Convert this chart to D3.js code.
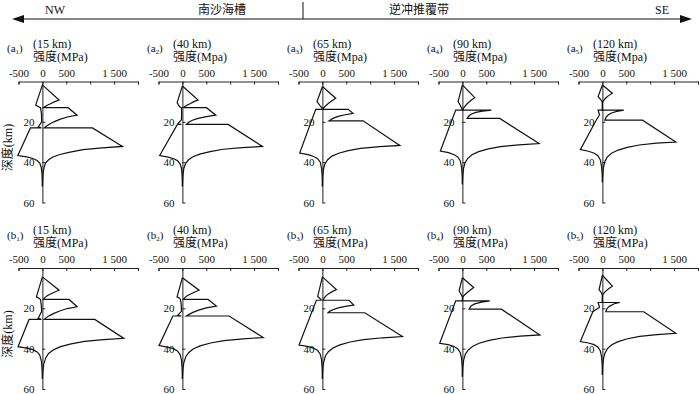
<!DOCTYPE html>
<html>
<head>
<meta charset="utf-8">
<script src="https://cdn.jsdelivr.net/npm/d3@7/dist/d3.min.js"></script>
<style>
  body { margin: 0; background: #fff; }
  svg text { font-family: "Liberation Serif", "Noto Sans CJK SC", serif; fill: #111; }
</style>
</head>
<body>
<div id="chart"></div>
<script>
// panel labels and axis ticks
var rowLetters = ["a", "b"];
var sections = ["15 km", "40 km", "65 km", "90 km", "120 km"];
var unitText = [["MPa", "Mpa", "Mpa", "Mpa", "Mpa"], ["MPa", "MPa", "MPa", "MPa", "MPa"]];
var strengthTicks = [-500, 0, 500, 1000, 1500, 2000];
var strengthTickText = ["-500", "0", "500", "", "1 500", ""];
var depthTicks = [20, 40, 60];

// strength envelopes, [strength MPa, depth km], compression side (right) and tension side (left)
var compA1 = [[0,1.7],[349,9.2],[260,10],[170,11],[100,11.8],[50,12.5],[20,13],[537,13],[726,16.7],[520,17.6],[363,18.8],[240,20],[154,21.1],[80,22.2],[40,23],[1047,23],[1675,32.2],[1250,32.9],[852,33.8],[580,35],[363,36.2],[220,37.4],[130,38.8],[70,40.3],[35,42.5],[12,46],[0,52]];
var tensA1 = [[0,1.7],[-140,11.7],[-70,12.6],[-40,13],[-20,16],[-15,20],[-90,22.6],[-20,23],[-250,23],[-515,36.7],[-330,37.4],[-200,38.2],[-110,39.2],[-55,40.5],[-25,42.5],[-8,46],[0,52]];
var compA2 = [[0,2.2],[328,9.2],[240,10],[160,11],[95,11.8],[45,12.5],[15,13],[503,13],[698,16.7],[500,17.4],[330,18.3],[210,19.2],[130,20.2],[84,21.3],[956,21.3],[1675,32.2],[1250,32.8],[852,33.6],[580,34.8],[363,36],[220,37.3],[130,38.8],[70,40.5],[30,43],[10,47],[0,52]];
var tensA2 = [[0,2.2],[-110,10.5],[-60,12.5],[-20,13],[-15,16],[-20,19],[-100,21.1],[-20,21.3],[-105,21.3],[-475,36.7],[-300,37.5],[-180,38.3],[-100,39.3],[-50,40.8],[-20,43],[-6,47],[0,52]];
var compA3 = [[0,2.5],[279,8.3],[200,9.5],[130,10.8],[70,12],[30,13],[10,13.8],[537,13.8],[642,15.8],[480,16.5],[330,17.3],[220,18.3],[140,19.5],[851,19.5],[1620,31.7],[1200,32.3],[800,33.2],[540,34.3],[340,35.6],[200,37],[110,38.8],[55,40.8],[22,43.5],[8,47],[0,52]];
var tensA3 = [[0,2.5],[-112,10],[-50,12],[-5,13.3],[-5,13.8],[-140,13.8],[-475,35.5],[-300,36.3],[-180,37.2],[-100,38.3],[-45,40],[-18,43],[-5,47],[0,52]];
var compA4 = [[0,1.7],[258,8],[180,9.3],[110,10.8],[55,12.2],[20,13.3],[5,14.2],[607,14.2],[420,14.7],[280,15.3],[180,16.2],[130,17.2],[100,18.3],[782,18.3],[1605,30.8],[1180,31.4],[800,32.3],[540,33.4],[340,34.8],[200,36.3],[110,38.2],[55,40.3],[22,43.3],[8,47],[0,51]];
var tensA4 = [[0,1.7],[-90,10],[-40,12],[-5,13.8],[-5,14.2],[-140,14.2],[-461,34.5],[-290,35.3],[-170,36.3],[-95,37.5],[-45,39.3],[-18,42.5],[-5,46.5],[0,51]];
var compA5 = [[0,1.7],[209,5.8],[130,7],[70,8.2],[25,9.5],[0,10.3],[0,14.2],[447,14.2],[300,14.8],[190,15.6],[120,16.6],[75,17.8],[50,19.2],[838,19.2],[1536,30],[1130,30.6],[770,31.5],[520,32.7],[330,34],[190,35.6],[100,37.5],[50,39.8],[20,43],[6,47],[0,50]];
var tensA5 = [[0,1.7],[-90,7.5],[-40,8.8],[0,10.3],[0,14.2],[-90,14.2],[-60,16.5],[-130,19.2],[-461,33.8],[-290,34.6],[-170,35.6],[-95,36.8],[-45,38.8],[-18,42],[-5,46],[0,50]];
var compB1 = [[0,4.4],[349,11],[260,11.9],[170,12.9],[100,13.8],[50,14.7],[20,15.6],[558,15.6],[726,19.2],[520,20.1],[363,21.3],[240,22.5],[150,23.6],[80,24.6],[40,25.5],[1096,25.5],[1703,34.9],[1280,35.5],[880,36.4],[600,37.6],[380,39],[230,40.6],[130,42.4],[70,44.5],[30,47.5],[10,51],[0,55]];
var tensB1 = [[0,4.4],[-126,14.3],[-70,15],[-40,15.6],[-25,18],[-15,21.5],[-90,25],[-20,25.5],[-279,25.5],[-510,39],[-320,39.7],[-200,40.5],[-110,41.6],[-55,43.2],[-22,46],[-7,50],[0,55]];
var compB2 = [[0,4.8],[349,11],[260,11.9],[170,12.9],[100,13.8],[50,14.7],[20,15.6],[537,15.6],[712,18.9],[500,19.8],[340,20.9],[220,22],[140,23],[84,23.8],[977,23.8],[1689,34.5],[1270,35.1],[870,36],[590,37.2],[370,38.6],[225,40.2],[130,42],[70,44],[30,47],[10,50.5],[0,55]];
var tensB2 = [[0,4.8],[-112,14.3],[-60,15],[-40,15.6],[-25,18],[-20,21.5],[-100,23.5],[-20,23.8],[-200,23.8],[-489,38.5],[-310,39.2],[-190,40],[-105,41.1],[-50,42.8],[-20,45.5],[-6,50],[0,55]];
var compB3 = [[0,4.4],[293,10.7],[215,11.6],[140,12.7],[80,13.7],[40,14.8],[15,16],[558,16],[656,18.4],[480,19],[330,19.8],[220,20.7],[150,21.5],[119,22.2],[886,22.2],[1675,34],[1260,34.6],[860,35.5],[580,36.7],[365,38.1],[220,39.7],[125,41.5],[65,43.5],[28,46.5],[9,50],[0,55]];
var tensB3 = [[0,4.4],[-98,14.1],[-55,15],[-25,15.7],[-25,16],[-126,16],[-489,38.2],[-310,38.9],[-190,39.7],[-105,40.8],[-50,42.5],[-20,45.2],[-6,49.5],[0,55]];
var compB4 = [[0,4.8],[237,9.7],[160,11],[95,12.3],[45,13.4],[10,14.3],[0,16.3],[572,16.3],[400,16.9],[258,17.8],[180,18.8],[140,20.4],[816,20.4],[1620,33.2],[1210,33.8],[830,34.7],[560,35.9],[350,37.3],[210,38.9],[120,40.7],[62,42.7],[26,45.7],[8,49.5],[0,54]];
var tensB4 = [[0,4.8],[-70,11.3],[-35,12.8],[0,14.3],[0,16.3],[-140,16.3],[-475,37.3],[-300,38],[-185,38.8],[-100,40],[-48,41.8],[-19,44.5],[-5,49],[0,54]];
var compB5 = [[0,3.6],[209,9],[130,10.3],[65,11.6],[20,12.8],[0,13.4],[0,17.1],[363,17.1],[250,17.7],[154,18.9],[100,20],[70,21.7],[865,21.7],[1536,32.4],[1140,33],[780,33.9],[525,35.1],[330,36.5],[195,38.1],[105,40],[52,42.2],[20,45.3],[6,49],[0,53]];
var tensB5 = [[0,3.6],[-70,10.7],[-30,12],[0,13.4],[0,17.1],[-90,17.1],[-60,19.5],[-200,21.7],[-461,36.5],[-290,37.2],[-175,38],[-95,39.2],[-45,41],[-18,44],[-5,48],[0,53]];

var compression = [[compA1, compA2, compA3, compA4, compA5], [compB1, compB2, compB3, compB4, compB5]];
var tension = [[tensA1, tensA2, tensA3, tensA4, tensA5], [tensB1, tensB2, tensB3, tensB4, tensB5]];

var width = 700, height = 394;
var svg = d3.select("#chart").append("svg")
    .attr("width", width)
    .attr("height", height);

// header: profile direction arrow
var header = svg.append("g");
header.append("line")
    .attr("x1", 20).attr("x2", 684).attr("y1", 19).attr("y2", 19)
    .attr("stroke", "#111").attr("stroke-width", 1);
header.append("path").attr("d", "M12,19 L24,15 L24,23 Z").attr("fill", "#111");
header.append("path").attr("d", "M692,19 L680,15 L680,23 Z").attr("fill", "#111");
header.append("line")
    .attr("x1", 303).attr("x2", 303).attr("y1", 2).attr("y2", 19)
    .attr("stroke", "#111").attr("stroke-width", 1);
var headerText = [["NW", 55], ["南沙海槽", 222], ["逆冲推覆带", 419], ["SE", 662]];
headerText.forEach(function(t) {
    header.append("text")
        .attr("x", t[1]).attr("y", 14)
        .attr("text-anchor", "middle")
        .attr("font-size", 12)
        .text(t[0]);
});

var rowTop = [81.5, 268];

// draw one strength panel
function drawPanel(r, i) {
    var x0 = 43 + 140 * i;
    var top = rowTop[r];
    var g = svg.append("g");

    var x = d3.scaleLinear().domain([-500, 2000]).range([x0 - 24.5, x0 + 95]);
    var y = d3.scaleLinear().domain([0, 60]).range([top, top + 121]);

    // strength axis on top, ticks pointing down
    var xa = g.append("g")
        .attr("transform", "translate(0," + top + ")")
        .call(d3.axisTop(x)
            .tickValues(strengthTicks)
            .tickFormat(function(d, k) { return strengthTickText[k]; })
            .tickSize(-3)
            .tickPadding(5));
    xa.selectAll("text").attr("font-size", 11).attr("font-family", null);

    // depth axis along zero strength
    var ya = g.append("g")
        .attr("transform", "translate(" + x(0) + ",0)")
        .call(d3.axisLeft(y)
            .tickValues(depthTicks)
            .tickSizeInner(-3)
            .tickSizeOuter(0)
            .tickPadding(8));
    ya.selectAll("text").attr("font-size", 11).attr("font-family", null);
    g.selectAll(".domain, .tick line").attr("stroke", "#222");

    // titles
    var lab = g.append("text")
        .attr("x", x0 - 36).attr("y", top - 29.5)
        .attr("font-size", 11);
    lab.append("tspan").text("(" + rowLetters[r]);
    lab.append("tspan").attr("font-size", 7).attr("dy", 2).text(i + 1);
    lab.append("tspan").attr("dy", -2).text(")");

    g.append("text")
        .attr("x", x0 - 10).attr("y", top - 34)
        .attr("font-size", 12)
        .text("(" + sections[i] + ")");
    g.append("text")
        .attr("x", x0 - 10).attr("y", top - 21)
        .attr("font-size", 12)
        .text("强度(" + unitText[r][i] + ")");

    if (i == 0) {
        g.append("text")
            .attr("transform", "translate(12," + (top + 66) + ") rotate(-90)")
            .attr("text-anchor", "middle")
            .attr("font-size", 12)
            .text("深度(km)");
    }

    var line = d3.line()
        .x(function(d) { return x(d[0]); })
        .y(function(d) { return y(d[1]); });

    [compression[r][i], tension[r][i]].forEach(function(pts) {
        g.append("path")
            .attr("d", line(pts))
            .attr("fill", "none")
            .attr("stroke", "#111")
            .attr("stroke-width", 1.2)
            .attr("stroke-linejoin", "miter");
    });
}

for (var r = 0; r < 2; r++) {
    for (var i = 0; i < 5; i++) {
        drawPanel(r, i);
    }
}
</script>
</body>
</html>
